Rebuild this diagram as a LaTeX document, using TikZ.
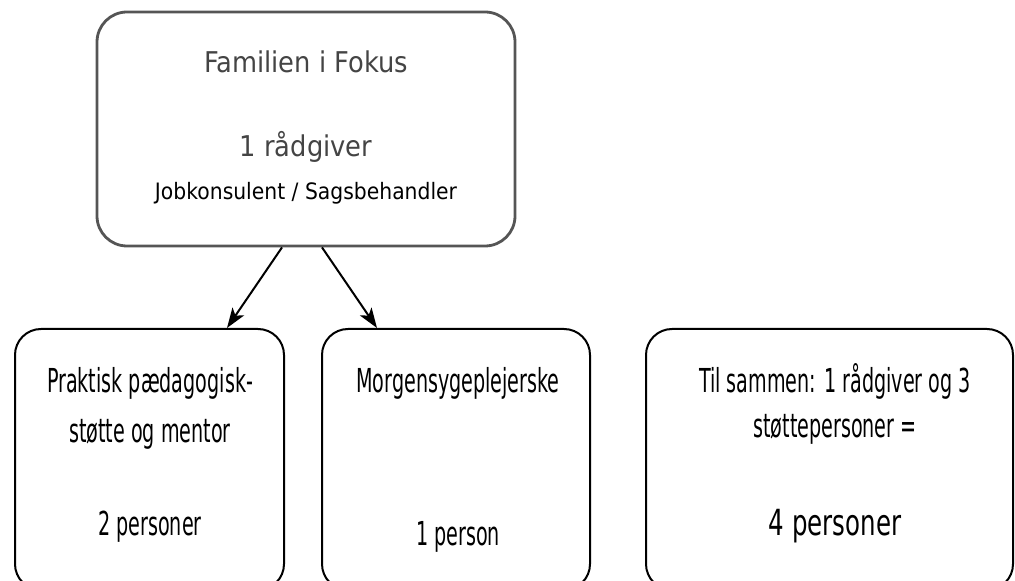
\documentclass[tikz,border=0pt]{standalone}
\usepackage{fontspec}
\setmainfont{DejaVu Sans}
\newfontfamily\topf[FakeStretch=0.9]{DejaVu Sans}
\newfontfamily\lowf[FakeStretch=0.58]{DejaVu Sans}
\newfontfamily\bigf[FakeStretch=0.68]{DejaVu Sans}
\usetikzlibrary{arrows.meta}
\definecolor{topgray}{RGB}{68,68,68}
\definecolor{bordergray}{RGB}{85,85,85}
\tikzset{
  topbox/.style={draw=bordergray, line width=1.4pt, rounded corners=15pt, minimum width=209pt, minimum height=117pt, inner sep=0pt},
  lowbox/.style={draw=black, line width=1pt, rounded corners=13pt, minimum height=130.5pt, inner sep=0pt},
  txt/.style={anchor=base, inner sep=0pt},
  lowtxt/.style={txt, font=\lowf\fontsize{16.5}{20}\selectfont},
  arr/.style={-{Stealth[length=10pt,width=7pt,inset=2.5pt]}, line width=1pt, black}
}
\begin{document}
\begin{tikzpicture}[x=0.5pt,y=-0.5pt]
\useasboundingbox (0,0) rectangle (1015,581);
% boxes
\node[topbox] (top) at (306,129) {};
\node[lowbox, minimum width=134.5pt] (left) at (149.5,459.5) {};
\node[lowbox, minimum width=134pt] (mid) at (456,459.5) {};
\node[lowbox, minimum width=183.5pt] (right) at (829.5,459.5) {};
% top texts
\node[txt, text=topgray, font=\topf\fontsize{14.3}{17}\selectfont] (t1) at (306,73) {Familien i Fokus};
\node[txt, text=topgray, font=\topf\fontsize{14.3}{17}\selectfont] (t2) at (306,157) {1 rådgiver};
\node[txt, text=black, font=\topf\fontsize{11.3}{14}\selectfont] (t3) at (306,200) {Jobkonsulent / Sagsbehandler};
% left texts
\node[lowtxt] (l1) at (150,393) {Praktisk pædagogisk-};
\node[lowtxt] (l2) at (150,443) {støtte og mentor};
\node[lowtxt] (l3) at (150,535) {2 personer};
% middle texts
\node[lowtxt] (m1) at (458,393) {Morgensygeplejerske};
\node[lowtxt] (m2) at (458,545) {1 person};
% right texts
\node[lowtxt] (r1) at (835,393) {Til sammen: 1 rådgiver og 3};
\node[lowtxt] (r2) at (835,438) {støttepersoner =};
\node[txt, font=\bigf\fontsize{18}{22}\selectfont] (r3) at (835,535) {4 personer};
% arrows
\draw[arr] (top.south -| 282,0) -- (left.north -| 227,0);
\draw[arr] (top.south -| 322,0) -- (mid.north -| 377,0);
\end{tikzpicture}
\end{document}
